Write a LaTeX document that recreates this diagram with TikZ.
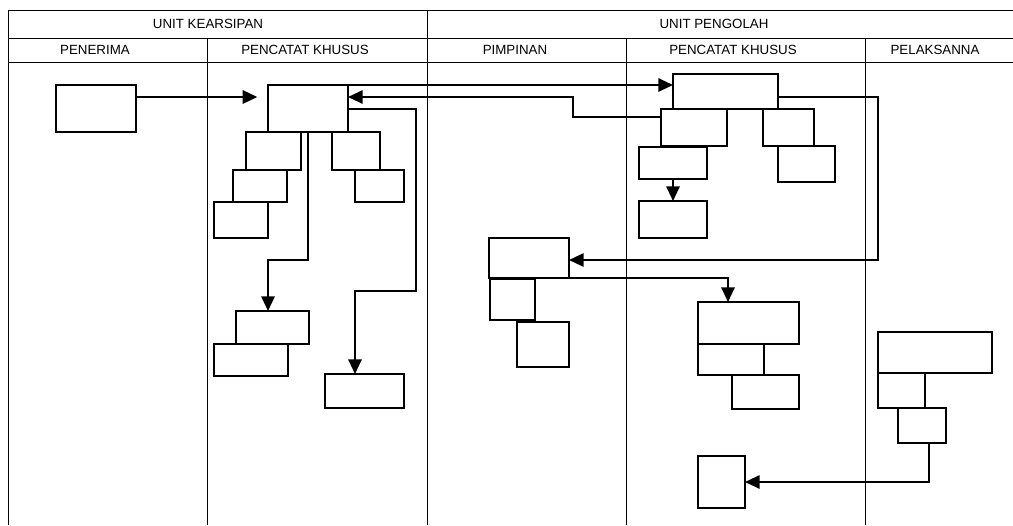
\documentclass[tikz,border=0pt]{standalone}
\usepackage{fontspec}
\setmainfont{Liberation Sans}
\usetikzlibrary{arrows.meta,fit}
\begin{document}
\begin{tikzpicture}[x=0.75pt,y=-0.75pt,
  bx/.style={draw,line width=1.5pt,inner sep=0pt,outer sep=0pt},
  grid/.style={line width=0.75pt},
  conn/.style={line width=1.5pt},
  arr/.style={conn,-{Triangle[length=11pt,width=10pt]}},
  hdr/.style={font=\fontsize{10pt}{12pt}\selectfont,inner sep=0pt}]
\useasboundingbox (0,0) rectangle (1013,525);
% table
\draw[grid] (8,525) -- (8,10) -- (1013,10);
\draw[grid] (8,38) -- (1013,38);
\draw[grid] (8,62) -- (1013,62);
\draw[grid] (427,10) -- (427,525);
\draw[grid] (207,38) -- (207,525);
\draw[grid] (626,38) -- (626,525);
\draw[grid] (865,38) -- (865,525);
\node[hdr] (h1) at (208,24) {UNIT KEARSIPAN};
\node[hdr] (h2) at (714,24) {UNIT PENGOLAH};
\node[hdr] (c1) at (95,50) {PENERIMA};
\node[hdr] (c2) at (305,50) {PENCATAT KHUSUS};
\node[hdr] (c3) at (515,50) {PIMPINAN};
\node[hdr] (c4) at (733,50) {PENCATAT KHUSUS};
\node[hdr] (c5) at (935,50) {PELAKSANNA};
% boxes
\node[bx,fit={(56,85) (136,132)}] (A) {};
\node[bx,fit={(268,85) (348,132)}] (B) {};
\node[bx,fit={(246,132) (301,170)}] (S) {};
\node[bx,fit={(233,170) (287,202)}] (T) {};
\node[bx,fit={(214,202) (268,238)}] (U) {};
\node[bx,fit={(332,132) (380,170)}] (V) {};
\node[bx,fit={(355,170) (404,202)}] (W) {};
\node[bx,fit={(236,311) (309,344)}] (X) {};
\node[bx,fit={(214,344) (288,376)}] (Y) {};
\node[bx,fit={(325,374) (404,408)}] (Z) {};
\node[bx,fit={(673,74) (778,109)}] (C) {};
\node[bx,fit={(661,109) (727,146)}] (D) {};
\node[bx,fit={(763,109) (814,146)}] (E) {};
\node[bx,fit={(639,147) (707,179)}] (F) {};
\node[bx,fit={(639,201) (707,238)}] (G) {};
\node[bx,fit={(778,146) (835,182)}] (H) {};
\node[bx,fit={(489,238) (569,278)}] (I) {};
\node[bx,fit={(490,279) (535,320)}] (J) {};
\node[bx,fit={(517,322) (569,367)}] (K) {};
\node[bx,fit={(698,302) (799,344)}] (L) {};
\node[bx,fit={(698,344) (764,375)}] (M) {};
\node[bx,fit={(732,375) (799,409)}] (N) {};
\node[bx,fit={(878,332) (992,373)}] (O) {};
\node[bx,fit={(878,373) (925,408)}] (P) {};
\node[bx,fit={(898,408) (946,443)}] (Q) {};
\node[bx,fit={(698,456) (745,508)}] (R) {};
% connectors
\draw[arr,shorten >=8pt] (A.east |- 0,97) -- (B.west |- 0,97);
\draw[arr] (B.north) -- (C.west |- B.north);
\draw[arr] (D.west |- 0,117) -| (573,97) -- (B.east |- 0,97);
\draw[arr] (C.east |- 0,97) -| (878,260) -- (I.east |- 0,260);
\draw[arr] (F.south) -- (G.north);
\draw[arr] (I.south east) -| (L.north -| 728,0);
\draw[arr] (Q.south -| 929,0) |- (R.east);
\draw[arr] (B.south) |- (268,260) -- (X.north -| 268,0);
\draw[arr] (B.east) -| (416,291) -| (Z.north -| 355,0);
\end{tikzpicture}
\end{document}
